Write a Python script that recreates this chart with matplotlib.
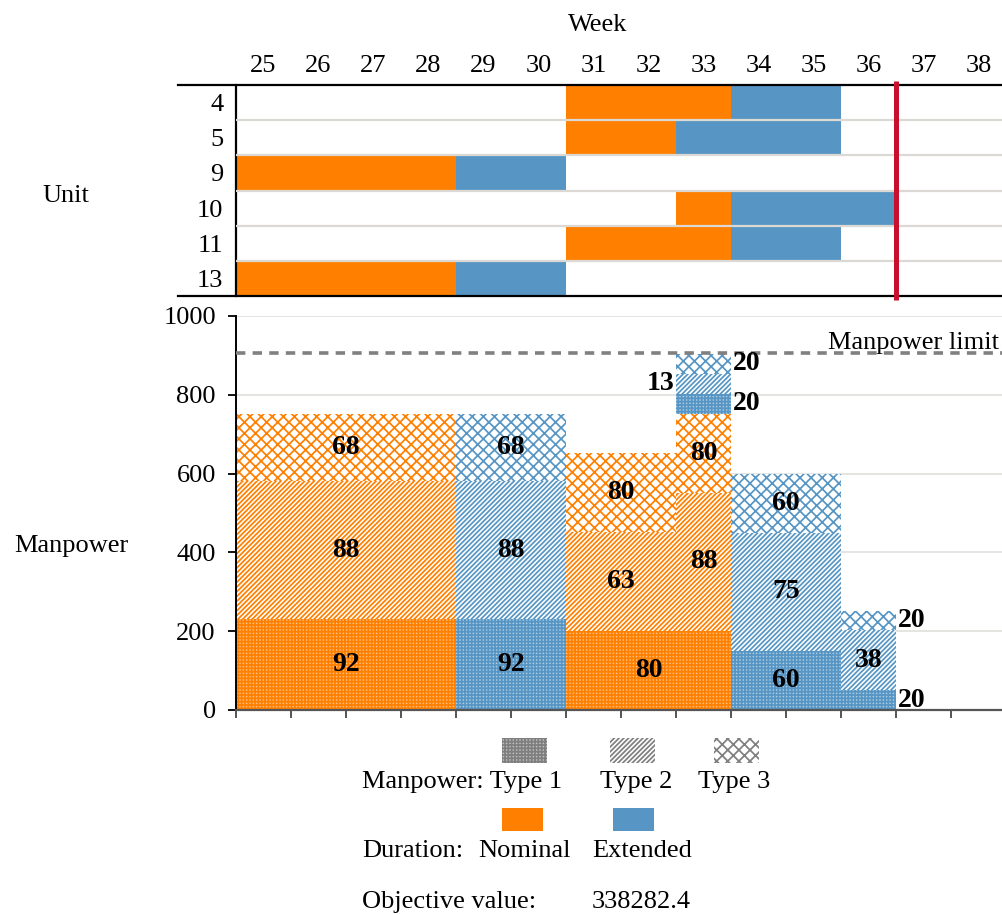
import numpy as np
import matplotlib
matplotlib.use("Agg")
import matplotlib.pyplot as plt
from matplotlib.colors import to_rgb
from matplotlib.patches import Rectangle

plt.rcParams["font.family"] = ["Liberation Serif", "DejaVu Serif"]
plt.rcParams["hatch.linewidth"] = 1.25

W, H = 1003, 915

# schedule of the units (week numbers)
weeks = np.arange(25, 39)
units = ["4", "5", "9", "10", "11", "13"]
nominal_first = [31, 31, 25, 33, 31, 25]
nominal_last = [33, 32, 28, 33, 33, 28]
extended_last = [35, 35, 30, 36, 35, 30]
deadline_week = 36

# crew size per week, weeks 25..38
nominal_type1 = [92, 92, 92, 92, 0, 0, 80, 80, 80, 0, 0, 0, 0, 0]
nominal_type2 = [88, 88, 88, 88, 0, 0, 63, 63, 88, 0, 0, 0, 0, 0]
nominal_type3 = [68, 68, 68, 68, 0, 0, 80, 80, 80, 0, 0, 0, 0, 0]
extended_type1 = [0, 0, 0, 0, 92, 92, 0, 0, 20, 60, 60, 20, 0, 0]
extended_type2 = [0, 0, 0, 0, 88, 88, 0, 0, 13, 75, 75, 38, 0, 0]
extended_type3 = [0, 0, 0, 0, 68, 68, 0, 0, 20, 60, 60, 20, 0, 0]
# manpower hours per crew member of each type
type_rate = [2.5, 4.0, 2.5]
manpower_limit = 905
objective_value = 338282.4

ORANGE = "#ff8000"
BLUE = "#5796c4"
GRAY = "#7f7f7f"
HATCHES = ["+++++", "///////", "xxx"]
FACE_TINT = [0.5, 1.0, 1.0]
FS = 19


def tint(color, f):
    c = np.array(to_rgb(color))
    return tuple(c + (1 - c) * f)


def box(left, top, right, bottom):
    return [left / W, 1 - bottom / H, (right - left) / W, (bottom - top) / H]


fig = plt.figure(figsize=(W / 100, H / 100), dpi=100)
x_max = 24.5 + (W - 236) / 55

# ---- Gantt chart of the units ----
ag = fig.add_axes(box(236, 85, W, 296))
for i in range(len(units)):
    n0, n1, e1 = nominal_first[i], nominal_last[i], extended_last[i]
    ag.barh(i + 0.5, n1 - n0 + 1, left=n0 - 0.5, height=1, color=ORANGE, lw=0)
    ag.barh(i + 0.5, e1 - n1, left=n1 + 0.5, height=1, color=BLUE, lw=0)
for i in range(1, len(units)):
    ag.axhline(i, color="#dcd8d4", lw=1.6, zorder=3)
ag.plot([deadline_week + 0.5] * 2, [-0.12, len(units) + 0.12], color="#c8102e",
        lw=3.6, clip_on=False, zorder=5, solid_capstyle="butt")
for yy in (0, 1):
    ag.plot([-0.0756, 1], [yy, yy], transform=ag.transAxes, color="black",
            lw=1.6, clip_on=False, zorder=4)
ag.set_xlim(24.5, x_max)
ag.set_ylim(len(units), 0)
ag.set_xticks(weeks)
ag.xaxis.tick_top()
ag.set_yticks(np.arange(len(units)) + 0.5, units)
ag.tick_params(axis="both", length=0, labelsize=FS)
ag.tick_params(axis="x", pad=6)
ag.tick_params(axis="y", pad=9)
for s in ("top", "bottom", "right"):
    ag.spines[s].set_visible(False)
ag.spines["left"].set_linewidth(1.6)

# ---- stacked manpower per week ----
ax = fig.add_axes(box(236, 316, W, 710))
series = [("nominal", ORANGE, [nominal_type1, nominal_type2, nominal_type3]),
          ("extended", BLUE, [extended_type1, extended_type2, extended_type3])]
bottom = np.zeros(len(weeks))
segments = []
for kind, color, counts in series:
    for t, crew in enumerate(counts):
        crew = np.array(crew, dtype=float)
        height = crew * type_rate[t]
        ax.bar(weeks, height, width=1, bottom=bottom, color=tint(color, FACE_TINT[t]),
               edgecolor=color, lw=0, hatch=HATCHES[t], zorder=2)
        for k, w in enumerate(weeks):
            if crew[k] > 0:
                segments.append((kind, t, w, bottom[k], height[k], int(crew[k])))
        bottom = bottom + height

# merge neighbouring weeks with the same crew and level into one label
runs = []
for seg in segments:
    kind, t, w, b, h, c = seg
    last = runs[-1] if runs else None
    if last and last[0] == kind and last[1] == t and last[3] == w - 1 \
            and last[4] == b and last[6] == c:
        last[3] = w
    else:
        runs.append([kind, t, w, w, b, h, c])

left_side = {("extended", 1, 33)}
for kind, t, w0, w1, b, h, c in runs:
    y = b + h / 2
    if h >= 100:
        ax.text((w0 + w1) / 2, y, str(c), ha="center", va="center",
                fontsize=FS + 1, fontweight="bold", zorder=6)
    elif (kind, t, w0) in left_side:
        ax.text(w0 - 0.5 - 0.03, y, str(c), ha="right", va="center",
                fontsize=FS + 1, fontweight="bold", zorder=6)
    else:
        ax.text(w1 + 0.5 + 0.04, y, str(c), ha="left", va="center",
                fontsize=FS + 1, fontweight="bold", zorder=6)

ax.axhline(manpower_limit, color="#808080", lw=2.6, ls=(0, (2.6, 2.0)), zorder=3)
ax.text(0.995, manpower_limit + 12, "Manpower limit", transform=ax.get_yaxis_transform(),
        ha="right", va="baseline", fontsize=FS)
ax.set_xlim(24.5, x_max)
ax.set_ylim(0, 1000)
ax.set_yticks(range(0, 1001, 200))
ax.yaxis.grid(True, color="#e2dfdb", lw=1.2, zorder=0)
ax.set_axisbelow(True)
ax.set_xticks(np.arange(24.5, 38, 1))
ax.set_xticklabels([])
ax.tick_params(axis="x", length=6, width=1.4, color="#555555")
ax.tick_params(axis="y", length=5.5, width=1.3, labelsize=FS, pad=9)
ax.spines["top"].set_visible(False)
ax.spines["right"].set_visible(False)
ax.spines["left"].set_linewidth(1.4)
ax.spines["bottom"].set_linewidth(1.6)
ax.spines["bottom"].set_color("#555555")

# ---- titles and legend ----
lg = fig.add_axes([0, 0, 1, 1])
lg.set_xlim(0, W)
lg.set_ylim(H, 0)
lg.axis("off")
lg.text(598, 31, "Week", ha="center", va="baseline", fontsize=FS)
lg.text(66, 202, "Unit", ha="center", va="baseline", fontsize=FS)
lg.text(71, 552, "Manpower", ha="center", va="baseline", fontsize=FS)

for x0, t in zip([502, 610, 714], range(3)):
    lg.add_patch(Rectangle((x0, 738), 45, 25, facecolor=tint(GRAY, FACE_TINT[t]),
                           edgecolor=GRAY, lw=0, hatch=HATCHES[t]))
lg.text(362, 788, "Manpower: Type 1", ha="left", va="baseline", fontsize=FS)
lg.text(600, 788, "Type 2", ha="left", va="baseline", fontsize=FS)
lg.text(698, 788, "Type 3", ha="left", va="baseline", fontsize=FS)

lg.add_patch(Rectangle((502, 808), 41, 23, facecolor=ORANGE, lw=0))
lg.add_patch(Rectangle((613, 808), 41, 23, facecolor=BLUE, lw=0))
lg.text(362, 857, "Duration:", ha="left", va="baseline", fontsize=FS)
lg.text(478, 857, "Nominal", ha="left", va="baseline", fontsize=FS)
lg.text(592, 857, "Extended", ha="left", va="baseline", fontsize=FS)

lg.text(362, 908, "Objective value:", ha="left", va="baseline", fontsize=FS)
lg.text(592, 908, f"{objective_value:.1f}", ha="left", va="baseline", fontsize=FS)

fig.savefig("out.png", dpi=100)
